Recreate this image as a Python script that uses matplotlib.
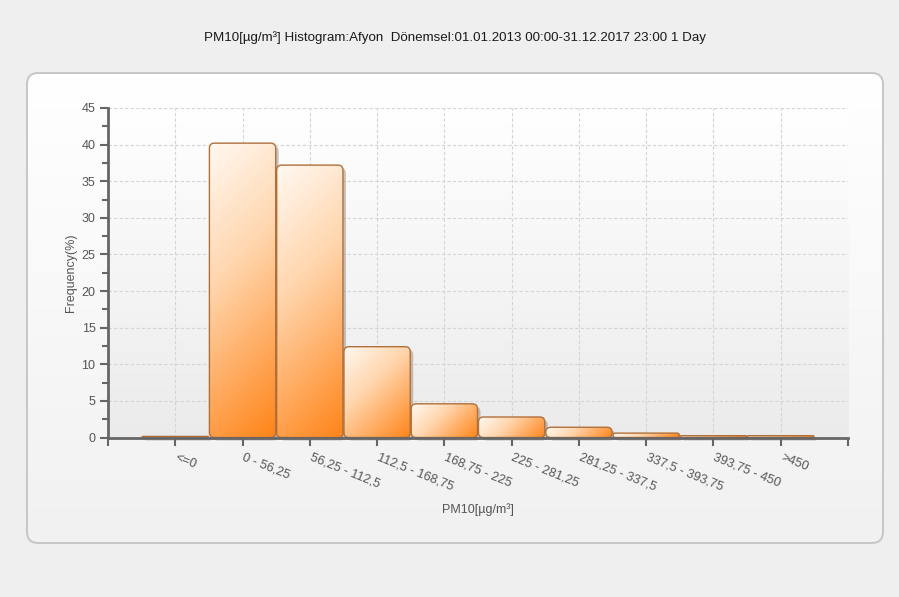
import numpy as np
import matplotlib
matplotlib.use("Agg")
import matplotlib.pyplot as plt
import matplotlib.transforms as mtransforms
from matplotlib.patches import FancyBboxPatch
from matplotlib.colors import LinearSegmentedColormap

# data
categories = ["<=0", "0 - 56,25", "56,25 - 112,5", "112,5 - 168,75", "168,75 - 225",
              "225 - 281,25", "281,25 - 337,5", "337,5 - 393,75", "393,75 - 450", ">450"]
frequency = [0.15, 40.2, 37.2, 12.4, 4.6, 2.8, 1.4, 0.6, 0.25, 0.25]

title = "PM10[µg/m³] Histogram:Afyon  Dönemsel:01.01.2013 00:00-31.12.2017 23:00 1 Day"
xlabel = "PM10[µg/m³]"
ylabel = "Frequency(%)"

plt.rcParams["font.family"] = ["Liberation Sans", "DejaVu Sans"]

W, H = 899, 597
fig = plt.figure(figsize=(W / 100, H / 100), dpi=100)
fig.patch.set_facecolor("#efefef")

#
##  rounded panel behind the chart
#
panel_ax = fig.add_axes([0, 0, 1, 1], zorder=-5)
panel_ax.set_xlim(0, W)
panel_ax.set_ylim(H, 0)
panel_ax.axis("off")
panel = FancyBboxPatch((27, 73), 856, 470, boxstyle="round,pad=0,rounding_size=11",
                       facecolor="none", edgecolor="#c6c6c6", linewidth=1.4)
panel_ax.add_patch(panel)
grad = np.linspace(0, 1, 256).reshape(-1, 1)
panel_cmap = LinearSegmentedColormap.from_list("panel", ["#ffffff", "#f1f1f1"])
im = panel_ax.imshow(grad, cmap=panel_cmap, extent=(27, 883, 543, 73), aspect="auto")
im.set_clip_path(panel)

fig.text(455 / W, 1 - 38 / H, title, ha="center", va="center", fontsize=9.6, color="#1a1a1a")

#
##  plot area
#
left, right, top, bottom = 108, 848, 108, 437.5
ax = fig.add_axes([left / W, 1 - bottom / H, (right - left) / W, (bottom - top) / H])
ax.set_facecolor("none")

bg_cmap = LinearSegmentedColormap.from_list("bg", ["#ffffff", "#ebebeb"])
ax.imshow(grad, cmap=bg_cmap, extent=(0, 1, 0, 1), transform=ax.transAxes,
          aspect="auto", zorder=0)

x = np.arange(len(categories))
ax.set_xticks(x)
ax.set_xticks([-1, 10], minor=True)
ax.set_xticklabels(categories, rotation=-22, ha="left", va="top", rotation_mode="anchor",
                   fontsize=9.2, color="#555555")
ax.set_yticks(np.arange(0, 46, 5))
ax.set_yticks(np.arange(2.5, 45, 5), minor=True)
ax.tick_params(axis="y", which="major", length=6, width=1.5, color="#666666",
               labelsize=9, labelcolor="#555555", pad=3)
ax.tick_params(axis="y", which="minor", length=4, width=1.5, color="#666666")
ax.tick_params(axis="x", which="both", length=6, width=1.5, color="#666666", pad=4)

# nudge x tick labels slightly to the right of the tick
offset = mtransforms.ScaledTranslation(2 / 72, 0, fig.dpi_scale_trans)
for lbl in ax.get_xticklabels():
    lbl.set_transform(lbl.get_transform() + offset)

ax.grid(True, which="major", color="#d4d4d4", linestyle=(0, (3, 2)), linewidth=0.8, zorder=1)
for s in ["top", "right"]:
    ax.spines[s].set_visible(False)
for s in ["left", "bottom"]:
    ax.spines[s].set_color("#666666")
    ax.spines[s].set_linewidth(2)
    ax.spines[s].set_zorder(6)

ax.set_xlabel(xlabel, fontsize=9, color="#555555", labelpad=7)
ax.set_ylabel(ylabel, fontsize=9, color="#555555", labelpad=3)

# bars with rounded corners, gradient and shadow
px_x = (right - left) / 11
px_y = (bottom - top) / 45
aspect = px_x / px_y
bar_w = 0.985
radius_px = 5
bar_cmap = LinearSegmentedColormap.from_list(
    "bar", [(0, "#fff8f0"), (0.4, "#ffd6ae"), (0.78, "#ffa250"), (1, "#ff8418")])
u, v = np.meshgrid(np.linspace(0, 1, 64), np.linspace(0, 1, 64))

for xi, h in zip(x, frequency):
    x0 = xi - bar_w / 2
    w_px, h_px = bar_w * px_x, h * px_y
    shade = (u * w_px + v * h_px) / (w_px + h_px)  # row 0 at top
    rs = min(radius_px / px_x, h / (2 * aspect))
    style = "round,pad=0,rounding_size=%f" % rs
    shadow = FancyBboxPatch((x0 + 3 / px_x, -3 / px_y), bar_w, h, boxstyle=style,
                            mutation_aspect=aspect, facecolor="#6b5a48", alpha=0.35,
                            edgecolor="none", zorder=2, clip_on=False)
    ax.add_patch(shadow)
    bar = FancyBboxPatch((x0, 0), bar_w, h, boxstyle=style, mutation_aspect=aspect,
                         facecolor="none", edgecolor="#b0703a", linewidth=1.0, zorder=4)
    ax.add_patch(bar)
    img = ax.imshow(shade, cmap=bar_cmap, vmin=0, vmax=1, extent=(x0, x0 + bar_w, 0, h),
                    aspect="auto", interpolation="bilinear", zorder=3)
    img.set_clip_path(bar)

ax.set_xlim(-1, 10)
ax.set_ylim(0, 45)

fig.savefig("out.png", dpi=100, facecolor=fig.get_facecolor())
